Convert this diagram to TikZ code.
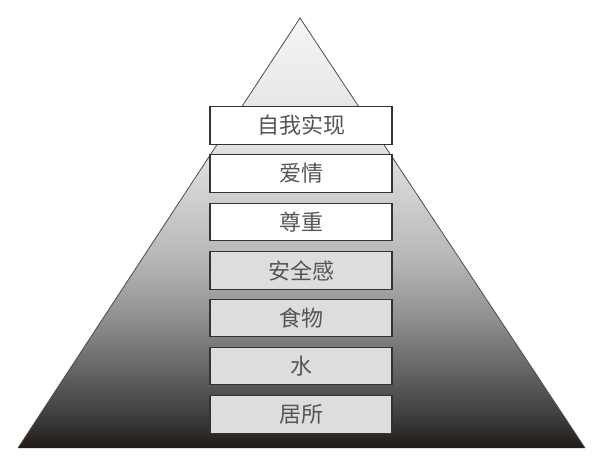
\documentclass[tikz,border=0pt]{standalone}
\usepackage{fontspec}
\newfontfamily\cjk{Noto Sans CJK SC}
\definecolor{boxgrey}{HTML}{DDDDDD}
\definecolor{txtgrey}{HTML}{555555}
\definecolor{g0}{HTML}{F5F5F5}
\definecolor{g1}{HTML}{E0E0E0}
\definecolor{g2}{HTML}{CECECE}
\definecolor{g3}{HTML}{B6B6B6}
\definecolor{g4}{HTML}{8E8E8E}
\definecolor{g5}{HTML}{5C5C5C}
\definecolor{g6}{HTML}{3A3A3A}
\definecolor{g7}{HTML}{221814}
\begin{document}
\begin{tikzpicture}[x=0.75pt,y=-0.75pt,
  level/.style={draw=black!80,line width=0.9pt,minimum width=136.5pt,minimum height=28pt,
    inner sep=0pt,font=\cjk\fontsize{16.5}{18}\selectfont,text=txtgrey},
  upper/.style={level,fill=white},
  lower/.style={level,fill=boxgrey}]
\useasboundingbox (0,0) rectangle (600,461);
\coordinate (apex) at (300,18);
\coordinate (bl) at (18,448);
\coordinate (br) at (585,448);
\begin{scope}
\clip (apex) -- (br) -- (bl) -- cycle;
\shade[top color=g0,bottom color=g1] (0,17) rectangle (600,150.5);
\shade[top color=g1,bottom color=g2] (0,150) rectangle (600,200.5);
\shade[top color=g2,bottom color=g3] (0,200) rectangle (600,260.5);
\shade[top color=g3,bottom color=g4] (0,260) rectangle (600,320.5);
\shade[top color=g4,bottom color=g5] (0,320) rectangle (600,380.5);
\shade[top color=g5,bottom color=g6] (0,380) rectangle (600,420.5);
\shade[top color=g6,bottom color=g7] (0,420) rectangle (600,449);
\end{scope}
\draw[black!70,line width=0.6pt] (bl) -- (apex) -- (br);
\node[upper] (n1) at (301,125.5) {自我实现};
\node[upper] (n2) at (301,173.5) {爱情};
\node[upper] (n3) at (301,222) {尊重};
\node[lower] (n4) at (301,270.5) {安全感};
\node[lower] (n5) at (301,318) {食物};
\node[lower] (n6) at (301,366) {水};
\node[lower] (n7) at (301,414.5) {居所};
\end{tikzpicture}
\end{document}
